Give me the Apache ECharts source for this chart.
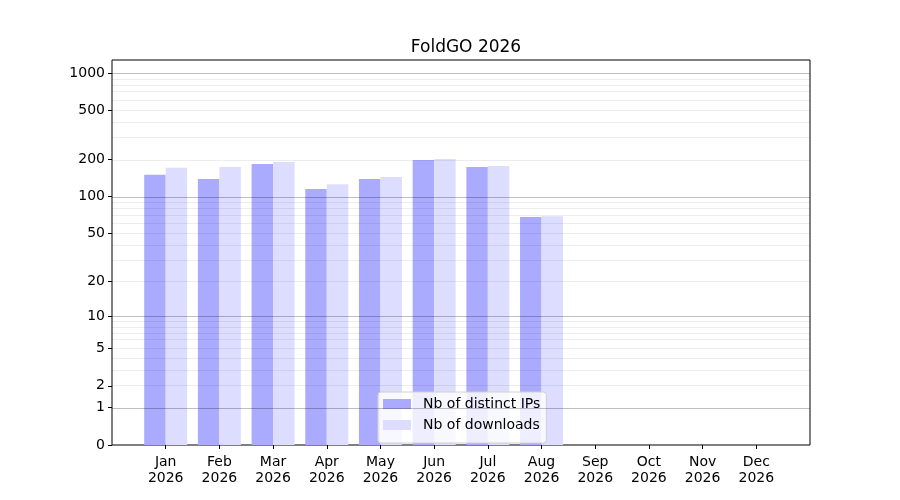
<!DOCTYPE html>
<html>
<head>
<meta charset="utf-8">
<script src="https://cdn.jsdelivr.net/npm/echarts@6/dist/echarts.min.js"></script>
<style>
  html, body { margin: 0; padding: 0; background: #fff; }
  #chart { width: 900px; height: 500px; }
</style>
</head>
<body>
<div id="chart"></div>
<script>
var months = ['Jan', 'Feb', 'Mar', 'Apr', 'May', 'Jun', 'Jul', 'Aug', 'Sep', 'Oct', 'Nov', 'Dec'];
var year = '2026';
var distinctIPs = [150, 139, 184, 115, 139, 198, 174, 68, 0, 0, 0, 0];
var downloads = [171, 174, 191, 126, 144, 202, 177, 69, 0, 0, 0, 0];
var yTicks = [0, 1, 2, 5, 10, 20, 50, 100, 200, 500, 1000];

// y axis is log10(1 + n)
function tr(v) { return Math.log10(1 + v); }

var majorLines = [1, 10, 100, 1000];
var minorLines = [];
[1, 10, 100].forEach(function (d) {
    for (var m = 2; m <= 9; m++) minorLines.push(m * d);
});

// pad one empty slot each side, like the plot margins
var cats = [''].concat(months.map(function (m) { return m + '\n' + year; }), ['']);
function pad(arr) { return [null].concat(arr.map(tr), [null]); }

var font = 'DejaVu Sans';
var chart = echarts.init(document.getElementById('chart'));

var gridLines = [];
minorLines.forEach(function (v) {
    gridLines.push({ yAxis: tr(v), lineStyle: { color: 'rgba(0,0,0,0.07)', width: 1, type: 'solid' } });
});
majorLines.forEach(function (v) {
    gridLines.push({ yAxis: tr(v), lineStyle: { color: 'rgba(0,0,0,0.25)', width: 1, type: 'solid' } });
});

chart.setOption({
    animation: false,
    textStyle: { fontFamily: font },
    title: {
        text: 'FoldGO ' + year,
        left: 461,
        textAlign: 'center',
        top: 34,
        textStyle: { fontFamily: font, fontSize: 17, fontWeight: 'normal', color: '#000' }
    },
    grid: {
        left: 112, right: 90, top: 60, bottom: 55,
        show: true, borderColor: '#000', borderWidth: 1, backgroundColor: 'transparent'
    },
    legend: {
        data: ['Nb of distinct IPs', 'Nb of downloads'],
        orient: 'vertical',
        left: 378,
        bottom: 57,
        icon: 'rect',
        itemWidth: 28,
        itemHeight: 10,
        itemGap: 7,
        padding: [5, 6, 11, 5],
        backgroundColor: 'rgba(255,255,255,0.8)',
        borderColor: '#d0d0d0',
        borderWidth: 1,
        borderRadius: 3,
        textStyle: { fontFamily: font, fontSize: 14, lineHeight: 14, color: '#000', padding: [0, 0, 0, 7] }
    },
    xAxis: {
        type: 'category',
        data: cats,
        boundaryGap: false,
        axisLine: { show: false },
        axisTick: {
            length: 4, lineStyle: { color: '#000' },
            interval: function (i) { return i > 0 && i < cats.length - 1; }
        },
        axisLabel: {
            interval: function (i) { return i > 0 && i < cats.length - 1; },
            color: '#000', fontSize: 14, fontFamily: font, lineHeight: 16, margin: 9
        },
        splitLine: { show: false }
    },
    yAxis: {
        type: 'value',
        min: 0,
        max: 3.105,
        axisLine: { show: false },
        splitLine: { show: false },
        axisTick: {
            show: true, length: 4, lineStyle: { color: '#000' },
            customValues: yTicks.map(tr)
        },
        axisLabel: {
            color: '#000', fontSize: 14, fontFamily: font, margin: 7,
            customValues: yTicks.map(tr),
            formatter: function (v) { return String(Math.round(Math.pow(10, v) - 1)); }
        }
    },
    series: [
        {
            name: 'Nb of distinct IPs',
            type: 'bar',
            data: pad(distinctIPs),
            barWidth: 21.5,
            barGap: '0%',
            itemStyle: { color: '#aaaaff' }
        },
        {
            name: 'Nb of downloads',
            type: 'bar',
            data: pad(downloads),
            barWidth: 21.5,
            barGap: '0%',
            itemStyle: { color: '#ddddff' }
        },
        {
            name: 'grid',
            type: 'line',
            data: [],
            z: 5,
            silent: true,
            markLine: {
                silent: true,
                symbol: 'none',
                label: { show: false },
                data: gridLines
            }
        }
    ]
});
</script>
</body>
</html>
